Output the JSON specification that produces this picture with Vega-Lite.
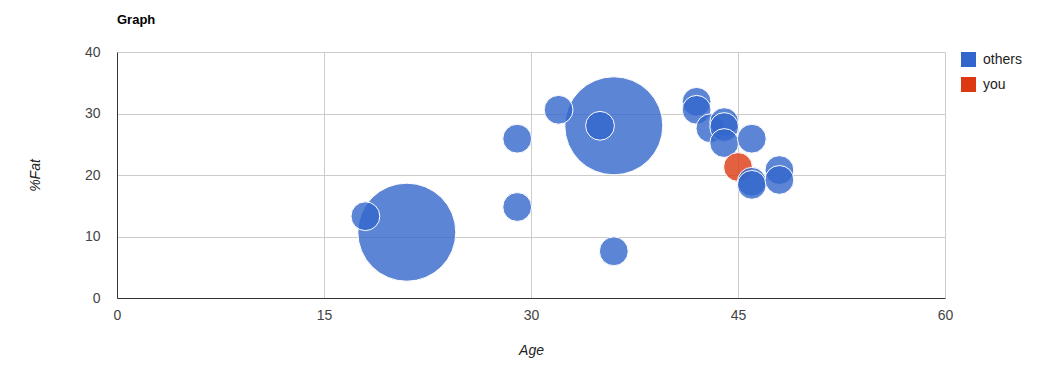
{
  "$schema": "https://vega.github.io/schema/vega-lite/v6.json",
  "autosize": "none",
  "width": 828,
  "height": 246,
  "padding": {"left": 117, "top": 52, "right": 103, "bottom": 72},
  "background": "white",
  "title": {
    "text": "Graph",
    "anchor": "start",
    "frame": "group",
    "font": "Liberation Sans",
    "fontSize": 13,
    "fontWeight": "bold",
    "color": "#000000",
    "offset": 18
  },
  "data": {
    "values": [
      {"age": 21, "fat": 10.7, "size": 12, "group": "others"},
      {"age": 36, "fat": 28.0, "size": 12, "group": "others"},
      {"age": 18, "fat": 13.3, "size": 1, "group": "others"},
      {"age": 29, "fat": 14.8, "size": 1, "group": "others"},
      {"age": 29, "fat": 25.9, "size": 1, "group": "others"},
      {"age": 32, "fat": 30.6, "size": 1, "group": "others"},
      {"age": 35, "fat": 28.0, "size": 1, "group": "others"},
      {"age": 36, "fat": 7.6, "size": 1, "group": "others"},
      {"age": 42, "fat": 31.9, "size": 1, "group": "others"},
      {"age": 42, "fat": 30.6, "size": 1, "group": "others"},
      {"age": 43, "fat": 27.6, "size": 1, "group": "others"},
      {"age": 44, "fat": 28.6, "size": 1, "group": "others"},
      {"age": 44, "fat": 27.8, "size": 1, "group": "others"},
      {"age": 44, "fat": 25.2, "size": 1, "group": "others"},
      {"age": 46, "fat": 25.9, "size": 1, "group": "others"},
      {"age": 45, "fat": 21.3, "size": 1, "group": "you"},
      {"age": 46, "fat": 18.9, "size": 1, "group": "others"},
      {"age": 46, "fat": 18.4, "size": 1, "group": "others"},
      {"age": 48, "fat": 20.8, "size": 1, "group": "others"},
      {"age": 48, "fat": 19.2, "size": 1, "group": "others"}
    ]
  },
  "mark": {
    "type": "point",
    "shape": "circle",
    "filled": true,
    "fillOpacity": 0.8,
    "stroke": "#ffffff",
    "strokeWidth": 1,
    "strokeOpacity": 1
  },
  "encoding": {
    "x": {
      "field": "age",
      "type": "quantitative",
      "title": "Age",
      "scale": {"domain": [0, 60], "nice": false, "zero": false},
      "axis": {
        "values": [0, 15, 30, 45, 60],
        "grid": true,
        "gridColor": "#cccccc",
        "domainColor": "#333333",
        "ticks": false,
        "labelFlush": false,
        "labelFont": "Liberation Sans",
        "labelFontSize": 14,
        "labelColor": "#444444",
        "labelPadding": 10,
        "titleFont": "Liberation Sans",
        "titleFontSize": 14,
        "titleFontStyle": "italic",
        "titleFontWeight": "normal",
        "titleColor": "#222222",
        "titlePadding": 21
      }
    },
    "y": {
      "field": "fat",
      "type": "quantitative",
      "title": "%Fat",
      "scale": {"domain": [0, 40], "nice": false},
      "axis": {
        "values": [0, 10, 20, 30, 40],
        "grid": true,
        "gridColor": "#cccccc",
        "domainColor": "#333333",
        "ticks": false,
        "labelFlush": false,
        "labelFont": "Liberation Sans",
        "labelFontSize": 14,
        "labelColor": "#444444",
        "labelPadding": 17,
        "titleFont": "Liberation Sans",
        "titleFontSize": 14,
        "titleFontStyle": "italic",
        "titleFontWeight": "normal",
        "titleColor": "#222222",
        "titlePadding": 42
      }
    },
    "size": {
      "field": "size",
      "type": "quantitative",
      "legend": null,
      "scale": {"domain": [1, 12], "range": [830, 9600], "zero": false}
    },
    "color": {
      "field": "group",
      "type": "nominal",
      "scale": {"domain": ["others", "you"], "range": ["#3366cc", "#dc3912"]},
      "legend": {
        "title": null,
        "orient": "none",
        "legendX": 844,
        "legendY": 0,
        "symbolType": "square",
        "symbolSize": 225,
        "symbolOpacity": 1,
        "symbolStrokeWidth": 0,
        "labelFont": "Liberation Sans",
        "labelFontSize": 14,
        "labelColor": "#222222",
        "labelOffset": 7,
        "rowPadding": 10
      }
    },
    "order": {"field": "size", "type": "quantitative", "sort": "descending"}
  },
  "config": {
    "view": {"stroke": null}
  }
}
